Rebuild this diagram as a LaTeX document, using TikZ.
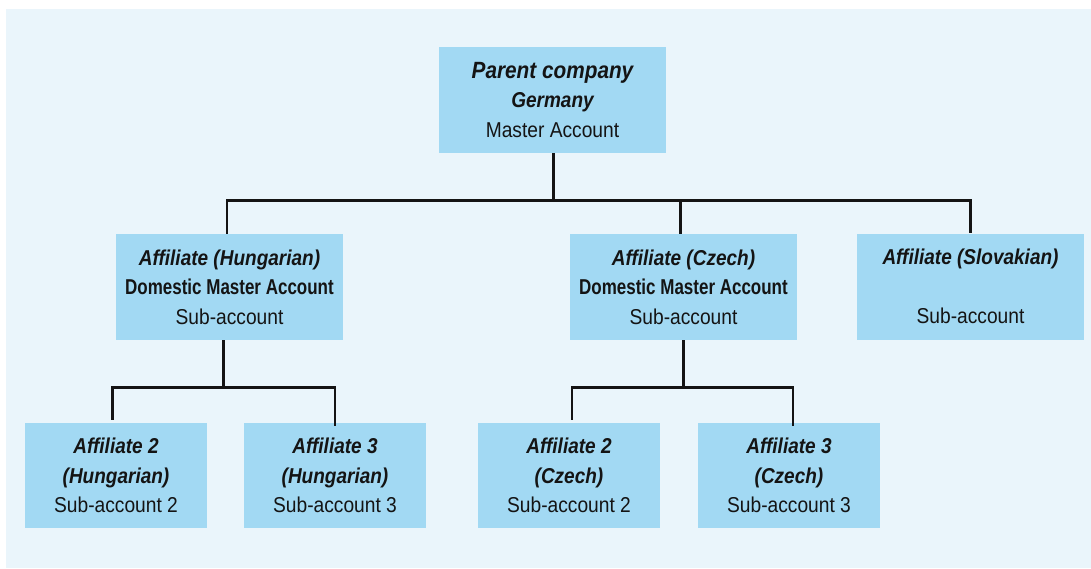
\documentclass[tikz,border=0pt]{standalone}
\usepackage{fontspec}
\setmainfont{Liberation Sans}
\newfontfamily\fR{Liberation Sans}[FakeStretch=0.893]
\newfontfamily\fBfam{Liberation Sans}[FakeStretch=0.79]
\newfontfamily\fBIfam{Liberation Sans}[FakeStretch=0.884]
\newcommand{\tR}[1]{{\fR #1}}
\newcommand{\tB}[1]{{\fBfam\bfseries #1}}
\newcommand{\tBI}[1]{{\fBIfam\bfseries\itshape #1}}
\definecolor{panel}{RGB}{234,245,251}
\definecolor{boxfill}{RGB}{162,217,243}
\definecolor{ink}{RGB}{20,20,20}
\tikzset{
  box/.style={fill=boxfill, draw=none, align=center, inner sep=0pt,
    text=ink, font=\fontsize{21.5}{29.5}\selectfont},
  wide/.style={box, minimum width=227pt, minimum height=106pt},
  small/.style={box, minimum width=182pt, minimum height=105pt},
  conn/.style={draw=ink, line width=2.5pt}
}
\begin{document}
\begin{tikzpicture}[x=1pt,y=-1pt]
\useasboundingbox (0,0) rectangle (1091,568);
\fill[white] (0,0) rectangle (1091,568);
\fill[panel] (6,9) rectangle (1091,568);

\node[wide] (P) at (552.5,100) {{\fontsize{23.5}{29.5}\selectfont\tBI{Parent company}}\\ \tBI{Germany}\\ \tR{Master Account}};
\node[wide] (H) at (229.5,287) {\tBI{Affiliate (Hungarian)}\\ \tB{Domestic Master Account}\\ \tR{Sub-account}};
\node[wide] (C) at (683.5,287) {\tBI{Affiliate (Czech)}\\ \tB{Domestic Master Account}\\ \tR{Sub-account}};
\node[wide] (S) at (970.5,286.5) {\tBI{Affiliate (Slovakian)}\\ \strut\\ \tR{Sub-account}};

\node[small] (H2) at (116,475.5) {\tBI{Affiliate 2}\\ \tBI{(Hungarian)}\\ \tR{Sub-account 2}};
\node[small] (H3) at (335,475.5) {\tBI{Affiliate 3}\\ \tBI{(Hungarian)}\\ \tR{Sub-account 3}};
\node[small] (C2) at (569,475.5) {\tBI{Affiliate 2}\\ \tBI{(Czech)}\\ \tR{Sub-account 2}};
\node[small] (C3) at (789,475.5) {\tBI{Affiliate 3}\\ \tBI{(Czech)}\\ \tR{Sub-account 3}};

% top level
\draw[conn] ([xshift=0.8pt]P.south) -- ++(0,47.5) coordinate (pbus);
\draw[conn] ([xshift=-2.5pt]H.north) |- (pbus) -| (S.north);
\draw[conn] ([xshift=-3pt]C.north) -- ([xshift=-3pt]C.north |- pbus);

% Hungarian level
\draw[conn] ([xshift=-6pt]H.south) -- ++(0,47.5) coordinate (hbus);
\draw[conn, shorten <=3pt] ([xshift=-3.5pt]H2.north) |- (hbus) -| ([yshift=-3pt]H3.north);

% Czech level
\draw[conn] (C.south) -- ++(0,47.5) coordinate (cbus);
\draw[conn, shorten <=3pt] ([xshift=3pt]C2.north) |- (cbus) -| ([xshift=4pt,yshift=-3pt]C3.north);
\end{tikzpicture}
\end{document}
